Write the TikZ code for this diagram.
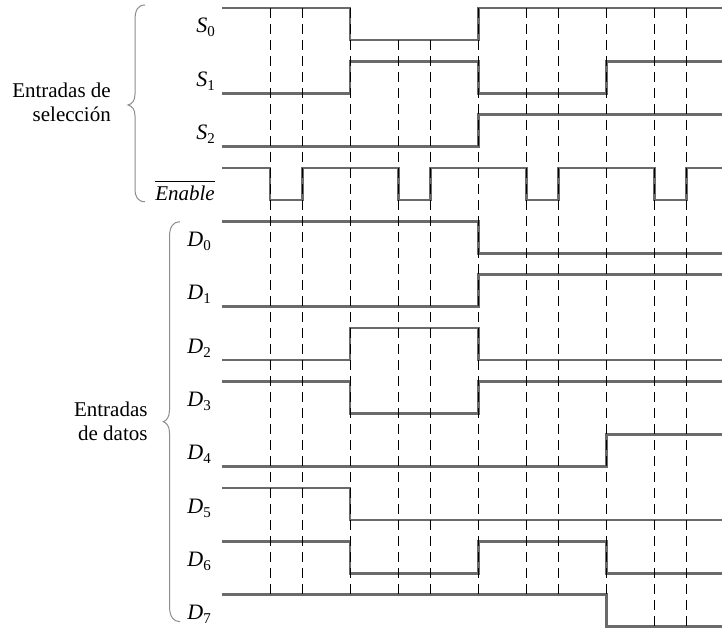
\documentclass[tikz,border=0pt]{standalone}
\usepackage{fontspec}
\setmainfont{Liberation Serif}
\definecolor{sig}{HTML}{6A6A6A}
\definecolor{brc}{HTML}{8C8C8C}
\newcommand\sgl[2]{{\fontsize{22}{24}\selectfont\textit{#1}}\raisebox{-4pt}{\fontsize{15}{15}\selectfont #2}}
\begin{document}
\begin{tikzpicture}[x=1pt,y=-1pt,
  sigline/.style={draw=sig, line width=2.6pt, line join=miter},
  gridline/.style={draw=black, line width=1pt, dash pattern=on 10pt off 6pt},
  lab/.style={anchor=base east, inner sep=0pt, font=\fontsize{21}{24}\selectfont},
  brcline/.style={draw=brc, line width=1pt}]
\useasboundingbox (0,0) rectangle (722,628);

% signals
% S0
\draw[sigline] (222,8) -- (350,8) -- (350,40) -- (478.7,40) -- (478.7,8) -- (722,8);
% S1
\draw[sigline] (222,93.3) -- (350,93.3) -- (350,61.3) -- (478.7,61.3) -- (478.7,93.3) -- (606.7,93.3) -- (606.7,61.3) -- (722,61.3);
% S2
\draw[sigline] (222,146.7) -- (478.7,146.7) -- (478.7,114.7) -- (722,114.7);
% Enable
\draw[sigline] (222,168) -- (270,168) -- (270,200) -- (302.3,200) -- (302.3,168)
  -- (398.7,168) -- (398.7,200) -- (430.3,200) -- (430.3,168)
  -- (526.7,168) -- (526.7,200) -- (558.7,200) -- (558.7,168)
  -- (654.7,168) -- (654.7,200) -- (686.7,200) -- (686.7,168) -- (722,168);
% D0
\draw[sigline] (222,221.3) -- (478.7,221.3) -- (478.7,253.3) -- (722,253.3);
% D1
\draw[sigline] (222,306.7) -- (478.7,306.7) -- (478.7,274.7) -- (722,274.7);
% D2
\draw[sigline] (222,360) -- (350,360) -- (350,328) -- (478.7,328) -- (478.7,360) -- (722,360);
% D3
\draw[sigline] (222,381.3) -- (350,381.3) -- (350,413.3) -- (478.7,413.3) -- (478.7,381.3) -- (722,381.3);
% D4
\draw[sigline] (222,466.7) -- (606.7,466.7) -- (606.7,434.7) -- (722,434.7);
% D5
\draw[sigline] (222,488) -- (350,488) -- (350,520) -- (722,520);
% D6
\draw[sigline] (222,541.3) -- (350,541.3) -- (350,573.3) -- (478.7,573.3) -- (478.7,541.3) -- (606.7,541.3) -- (606.7,573.3) -- (722,573.3);
% D7
\draw[sigline] (222,594.7) -- (606.7,594.7) -- (606.7,626.5) -- (722,626.5);

% dashed time markers
\foreach \x in {270,302.3,350,478.7,526.7,558.7,606.7}
  \draw[gridline] (\x,8) -- (\x,594.7);
\foreach \x in {398.7,430.3}
  \draw[gridline] (\x,40) -- (\x,594.7);
\foreach \x in {654.7,686.7}
  \draw[gridline] (\x,8) -- (\x,626.5);

% labels
\node[lab] (s0) at (215,33) {\sgl{S}{0}};
\node[lab] (s1) at (215,86.3) {\sgl{S}{1}};
\node[lab] (s2) at (215,139.7) {\sgl{S}{2}};
\node[lab] (en) at (215,201) {\textit{Enable}};
\draw[line width=0.9pt] ([yshift=5pt]en.north west) -- ([yshift=5pt]en.north east);
\node[lab] (d0) at (211,246.3) {\sgl{D}{0}};
\node[lab] (d1) at (211,299.7) {\sgl{D}{1}};
\node[lab] (d2) at (211,353) {\sgl{D}{2}};
\node[lab] (d3) at (211,406.3) {\sgl{D}{3}};
\node[lab] (d4) at (211,459.7) {\sgl{D}{4}};
\node[lab] (d5) at (211,513) {\sgl{D}{5}};
\node[lab] (d6) at (211,566.3) {\sgl{D}{6}};
\node[lab] (d7) at (211,619.7) {\sgl{D}{7}};

\node[lab] (sel1) at (111,97.3) {Entradas de};
\node[lab] (sel2) at (111,121.7) {selección};
\node[lab] (dat1) at (147.7,416.7) {Entradas};
\node[lab] (dat2) at (147.7,440) {de datos};

% braces
\draw[brcline] (145,5) .. controls (138,5) and (135,10) .. (135,20) -- (135,94)
  .. controls (135,101) and (132,104) .. (128,105)
  .. controls (132,106) and (135,109) .. (135,116) -- (135,189)
  .. controls (135,197) and (138,201.7) .. (145,201.7);
\draw[brcline] (180,221.7) .. controls (173,221.7) and (169.5,227) .. (169.5,237) -- (169.5,410)
  .. controls (169.5,417) and (166.5,420.7) .. (163.3,421.7)
  .. controls (166.5,422.7) and (169.5,426) .. (169.5,433) -- (169.5,606)
  .. controls (169.5,616) and (173,621.7) .. (180,621.7);
\end{tikzpicture}
\end{document}
